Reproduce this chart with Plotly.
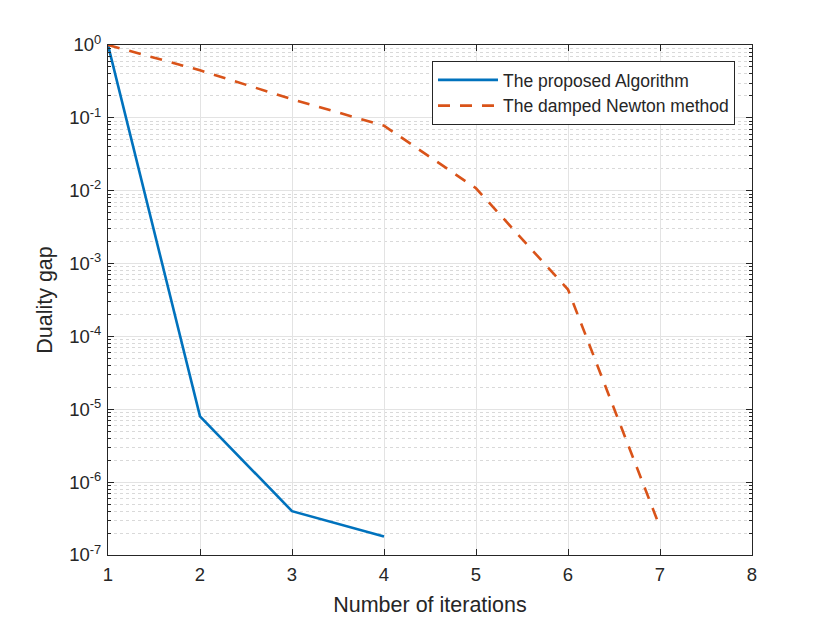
import plotly.graph_objects as go

iters_prop = [1, 2, 3, 4]
gap_prop = [1.0, 8.0e-6, 4.0e-7, 1.8e-7]

iters_newton = [1, 2, 3, 4, 5, 6, 7]
gap_newton = [1.0, 0.45, 0.18, 0.078, 0.0108, 4.4e-4, 2.4e-7]

y_ticks = [1e-7, 1e-6, 1e-5, 1e-4, 1e-3, 1e-2, 1e-1, 1e0]
y_labels = ['10<sup>-7</sup>', '10<sup>-6</sup>', '10<sup>-5</sup>', '10<sup>-4</sup>',
            '10<sup>-3</sup>', '10<sup>-2</sup>', '10<sup>-1</sup>', '10<sup>0</sup>']
minor_vals = [k * 10 ** e for e in range(-7, 0) for k in range(2, 10)]

fig = go.Figure()
fig.add_trace(go.Scatter(x=iters_prop, y=gap_prop, mode='lines',
                         name='The proposed Algorithm',
                         line=dict(color='#0072BD', width=2.6)))
fig.add_trace(go.Scatter(x=iters_newton, y=gap_newton, mode='lines',
                         name='The damped Newton method',
                         line=dict(color='#D95319', width=2.6, dash='12px,10px')))

axis_common = dict(showline=True, linecolor='#262626', linewidth=1, mirror='allticks',
                   ticks='inside', ticklen=6, tickcolor='#262626',
                   gridcolor='#e3e3e3', zeroline=False,
                   tickfont=dict(size=18.5, color='#262626'))

fig.update_layout(
    width=830, height=623,
    margin=dict(l=100, r=86, t=37, b=76),
    paper_bgcolor='white', plot_bgcolor='white',
    font=dict(family='Liberation Sans, Arial, sans-serif', color='#262626'),
    xaxis=dict(range=[1, 8], dtick=1, ticklabelstandoff=3,
               title=dict(text='Number of iterations', font=dict(size=21.5), standoff=12),
               **axis_common),
    yaxis=dict(type='log', range=[-7, 0], tickvals=y_ticks, ticktext=y_labels,
               ticklabelstandoff=2,
               title=dict(text='Duality gap', font=dict(size=21.5), standoff=10),
               minor=dict(tickvals=minor_vals, showgrid=True, gridcolor='#d9d9d9',
                          griddash='dot', ticks='inside', ticklen=3, tickcolor='#262626'),
               **axis_common),
    legend=dict(x=0.9736, y=0.9686, xanchor='right', yanchor='top',
                bgcolor='white', bordercolor='#262626', borderwidth=1,
                font=dict(size=17.5), tracegroupgap=0, itemwidth=60),
    showlegend=True,
)

fig.write_html("out.html")
